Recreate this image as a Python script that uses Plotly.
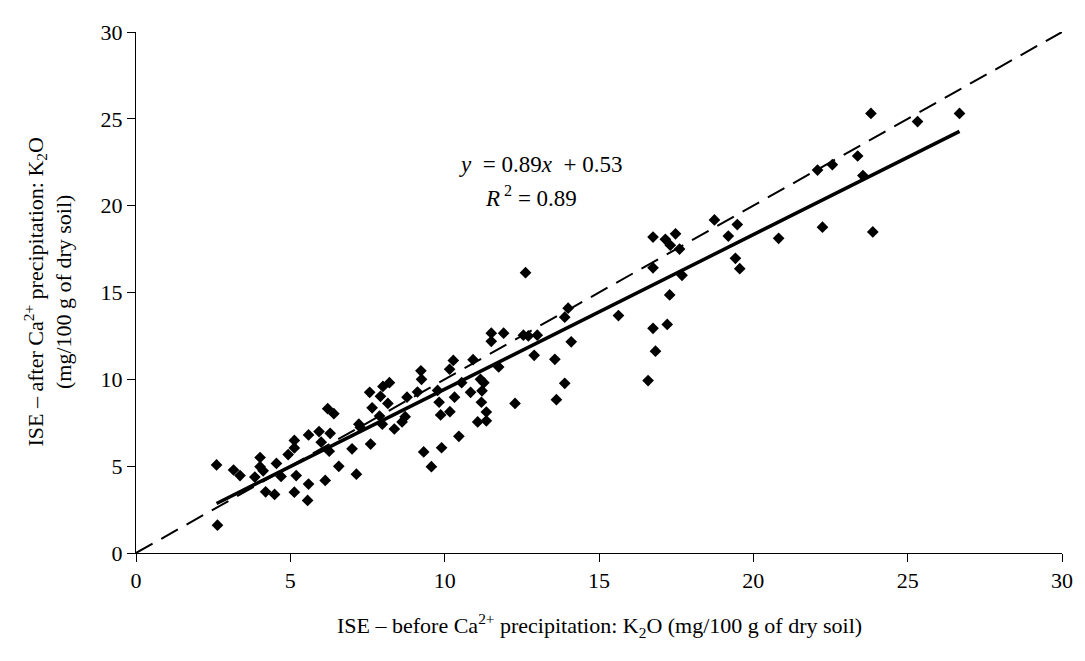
import plotly.graph_objects as go

# ISE before Ca2+ precipitation (x) and after (y), K2O mg/100 g
x_before = [2.61, 2.64, 3.16, 3.37, 3.85, 4.02, 4.02, 4.12, 4.20, 4.49, 4.55, 4.70, 4.93,
            5.13, 5.13, 5.13, 5.19, 5.59, 5.59, 5.56, 5.93, 6.00, 6.13, 6.21, 6.41, 6.29,
            6.26, 6.57,
            12.62, 14.00, 13.89, 14.10, 13.57, 13.89, 13.62, 12.28, 12.90, 13.00, 12.55,
            12.71, 11.51, 11.51, 11.91, 11.75, 10.92, 10.28, 10.16, 11.16, 11.27, 11.21,
            11.19, 11.35, 11.07, 11.35, 10.84, 10.55, 10.32, 10.17, 9.87, 9.82, 9.77,
            10.46, 9.90, 9.32, 9.57, 9.23, 9.25, 9.12, 8.78, 8.72, 8.62, 8.37, 8.16, 7.92,
            8.00, 8.21, 7.57, 7.65, 7.89, 7.98, 7.22, 7.27, 7.00, 7.60, 7.14,
            15.63, 16.75, 16.75, 17.15, 17.31, 17.48, 17.61, 17.29, 17.69, 16.75, 17.21,
            16.83, 16.59, 18.74, 19.19, 19.48, 19.42, 19.56, 20.82,
            23.81, 26.68, 25.32, 23.38, 22.56, 22.08, 23.55, 22.24, 23.87]
y_after = [5.07, 1.60, 4.78, 4.46, 4.37, 5.50, 4.97, 4.73, 3.52, 3.37, 5.16, 4.41, 5.67,
           6.05, 6.48, 3.50, 4.46, 6.80, 3.97, 3.03, 6.99, 6.38, 4.18, 8.31, 8.02, 6.89,
           5.86, 4.99,
           16.14, 14.10, 13.58, 12.16, 11.15, 9.77, 8.83, 8.61, 11.38, 12.54, 12.54,
           12.50, 12.66, 12.19, 12.66, 10.71, 11.13, 11.09, 10.58, 10.00, 9.81, 9.34,
           8.68, 8.12, 7.55, 7.61, 9.25, 9.81, 8.97, 8.14, 7.95, 8.68, 9.36,
           6.72, 6.06, 5.82, 4.97, 10.49, 10.00, 9.27, 8.97, 7.85, 7.55, 7.14, 8.61, 9.02,
           9.59, 9.81, 9.25, 8.36, 7.89, 7.42, 7.42, 7.23, 6.00, 6.27, 4.54,
           13.67, 18.19, 16.42, 18.06, 17.72, 18.38, 17.50, 14.86, 15.99, 12.94, 13.16,
           11.62, 9.93, 19.18, 18.25, 18.91, 16.97, 16.37, 18.12,
           25.31, 25.31, 24.84, 22.86, 22.36, 22.05, 21.73, 18.76, 18.49]

slope = 0.89
intercept = 0.53
r_squared = 0.89
axis_min, axis_max = 0, 30
tick_vals = [0, 5, 10, 15, 20, 25, 30]

FONT = "Liberation Serif, serif"
FS = 22

fig = go.Figure()

# 1:1 line
fig.add_trace(go.Scatter(x=[axis_min, axis_max], y=[axis_min, axis_max], mode="lines",
                         line=dict(color="black", width=2, dash="19px,10px"),
                         hoverinfo="skip", showlegend=False))

# regression line
x0, x1 = min(x_before), max(x_before)
fig.add_trace(go.Scatter(x=[x0, x1], y=[slope * x0 + intercept, slope * x1 + intercept],
                         mode="lines", line=dict(color="black", width=3.5),
                         hoverinfo="skip", showlegend=False))

fig.add_trace(go.Scatter(x=x_before, y=y_after, mode="markers",
                         marker=dict(symbol="diamond", size=9, color="black"),
                         showlegend=False))

axis_common = dict(range=[axis_min, axis_max], tickvals=tick_vals, ticks="outside",
                   ticklen=8, tickcolor="black", showline=True, linecolor="black",
                   linewidth=1, showgrid=False, zeroline=False,
                   tickfont=dict(family=FONT, size=FS, color="black"))

fig.update_layout(
    width=1077, height=653,
    margin=dict(l=128, r=15, t=14, b=108),
    paper_bgcolor="white", plot_bgcolor="white",
    font=dict(family=FONT, size=FS, color="black"),
    xaxis=axis_common, yaxis=axis_common,
    annotations=[
        dict(text="ISE – before Ca<sup>2+</sup> precipitation: K<sub>2</sub>O (mg/100 g of dry soil)",
             xref="paper", yref="paper", x=0.5, y=0, yanchor="middle", xanchor="center",
             yshift=-72, showarrow=False, font=dict(family=FONT, size=FS)),
        dict(text="ISE – after Ca<sup>2+</sup> precipitation: K<sub>2</sub>O<br>(mg/100 g of dry soil)",
             xref="paper", yref="paper", x=0, y=0.5, xanchor="center", yanchor="middle",
             xshift=-88, textangle=-90, showarrow=False, font=dict(family=FONT, size=FS)),
        dict(text=f"<i>y</i>  = {slope}<i>x</i>  + {intercept}",
             xref="x", yref="y", x=13.1, y=22.35, showarrow=False,
             font=dict(family=FONT, size=23)),
        dict(text=f"<i>R</i><sup> 2</sup> = {r_squared}",
             xref="x", yref="y", x=12.8, y=20.5, showarrow=False,
             font=dict(family=FONT, size=23)),
    ],
)

fig.write_html("out.html")
